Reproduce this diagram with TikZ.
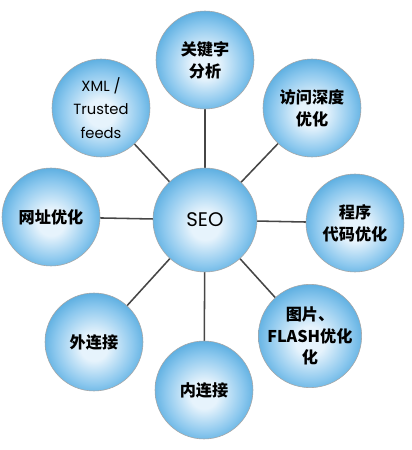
\documentclass[tikz,border=0pt]{standalone}
\usepackage{fontspec}
\setmainfont{Poppins}
\newfontfamily\cjk{Noto Sans CJK SC}
\usetikzlibrary{backgrounds}
\definecolor{ballrim}{RGB}{62,158,216}
\definecolor{ballmid}{RGB}{230,243,252}
\definecolor{balltone}{RGB}{140,200,238}
\definecolor{spokegray}{RGB}{70,70,70}
\pgfdeclareradialshading{ballshade}{\pgfpoint{0bp}{-3bp}}{%
  color(0bp)=(ballmid); color(7bp)=(ballmid); color(20bp)=(balltone);
  color(31bp)=(ballrim); color(50bp)=(ballrim)}

\begin{document}
\begin{tikzpicture}[
  ball/.style={circle,draw=gray!70,line width=0.4pt,shading=ballshade,
    minimum size=24.5mm,inner sep=0pt,align=center},
  zh/.style={font=\cjk\bfseries\fontsize{11.5}{15.5}\selectfont},
  en/.style={font=\fontsize{10.5}{16.5}\selectfont},
  core/.style={ball,minimum size=26mm,font=\fontsize{14}{16}\selectfont},
  link/.style={draw=spokegray,line width=1.1pt}]
  \useasboundingbox (0,0) rectangle (10.3,11.25);
  \node[core](seo) at (5.125,5.75){SEO};
  \node[ball,zh](kw) at (5.125,9.75){关键字\\分析};
  \node[ball,zh](fw) at (7.8,8.55){访问深度\\优化};
  \node[ball,zh](dm) at (8.875,5.675){程序\\代码优化};
  \node[ball,zh](tp) at (7.75,2.85){图片、\\FLASH优化\\化};
  \node[ball,zh](nl) at (5.1,1.5){内连接};
  \node[ball,zh](wl) at (2.35,2.7){外连接};
  \node[ball,zh](wz) at (1.275,5.825){网址优化};
  \node[ball,en](xml) at (2.525,8.55){XML /\\Trusted\\feeds};
  % spokes go behind the balls
  \begin{scope}[on background layer]
    \foreach \n in {kw,fw,dm,tp,nl,wl,wz,xml}
      \draw[link](seo.center)--(\n.center);
  \end{scope}
\end{tikzpicture}
\end{document}
